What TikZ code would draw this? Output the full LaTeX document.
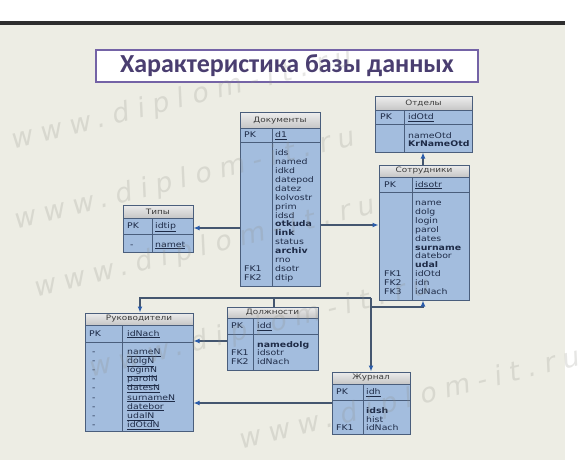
\documentclass[tikz,border=0pt]{standalone}
\usepackage{fontspec}
\setmainfont{DejaVu Sans}
\newfontfamily\tblfont[FakeStretch=1.2]{DejaVu Sans}
\newfontfamily\titlefont{Carlito}
\newfontfamily\wmfont[LetterSpace=30,FakeSlant=0.2]{DejaVu Sans}
\usetikzlibrary{fit,arrows.meta}
\definecolor{bg}{HTML}{EDEDE4}
\definecolor{topbar}{HTML}{2E2E2E}
\definecolor{bodyblue}{HTML}{A3BDDE}
\definecolor{tborder}{HTML}{4A5E7C}
\definecolor{hdrtop}{HTML}{ECECEC}
\definecolor{hdrbot}{HTML}{C6C6C6}
\definecolor{ink}{HTML}{1E2B47}
\definecolor{hdrink}{HTML}{3C3C3C}
\definecolor{connc}{HTML}{44566F}
\definecolor{arrowblue}{HTML}{2A5CAA}
\definecolor{titleink}{HTML}{4A3E70}
\definecolor{titleframe}{HTML}{7463A6}
\definecolor{wm}{HTML}{8E8E86}
\tikzset{
  tbox/.style={draw=tborder,line width=1pt,inner sep=0pt},
  tline/.style={draw=tborder,line width=0.8pt},
  thead/.style={font=\tblfont\fontsize{7.4}{8}\selectfont,text=hdrink,inner sep=0pt},
  tkey/.style={anchor=base west,font=\tblfont\fontsize{7.8}{8}\selectfont,text=ink,inner sep=0pt},
  tattr/.style={anchor=base west,font=\tblfont\fontsize{7.8}{8}\selectfont,text=ink,inner sep=0pt},
  conn/.style={draw=connc,line width=1.3pt},
  arr/.style={-{Latex[length=6pt,width=5pt,color=arrowblue]}},
  titlebox/.style={draw=titleframe,line width=1.5pt,fill=white,minimum width=382pt,minimum height=32pt,inner sep=0pt,
    font=\titlefont\bfseries\fontsize{26}{30}\selectfont,text=titleink},
  wmark/.style={font=\wmfont\fontsize{27}{30}\selectfont,text=wm,opacity=0.22,anchor=base west,inner sep=0pt,rotate=14}
}
% #1 name #2 x1 #3 y1 #4 x2 #5 y2 #6 yh #7 yp #8 xd #9 title
\newcommand\ertable[9]{%
  \fill[bodyblue] (#2,#3) rectangle (#4,#5);
  \shade[top color=hdrtop,bottom color=hdrbot] (#2,#3) rectangle (#4,#6);
  \draw[tline] (#2,#6) -- (#4,#6) (#2,#7) -- (#4,#7) (#8,#6) -- (#8,#5);
  \node[tbox,fit={(#2,#3)(#4,#5)}] (#1) {};
  \node[thead] (#1-title) at ({(#2+#4)/2},{(#3+#6)/2}) {#9};
}
% #1 name #2 xkey #3 xattr #4 first baseline #5 step #6 list
\newcommand\errows[6]{%
  \foreach \k/\a [count=\i] in {#6} {
    \node[tkey] (#1-k\i) at (#2,{#4+(\i-1)*#5}) {\k};
    \node[tattr] (#1-a\i) at (#3,{#4+(\i-1)*#5}) {\a};
  }%
}
\begin{document}
\begin{tikzpicture}[x=1pt,y=-1pt]
\useasboundingbox (0,0) rectangle (587,460);
\fill[white] (0,0) rectangle (587,460);
\fill[bg] (0,25) rectangle (565,460);
\fill[topbar] (0,21) rectangle (565,25);

\node[titlebox] (title) at (287,66) {Характеристика базы данных};

% Отделы
\ertable{otd}{375}{97}{472}{152}{110}{124}{404}{Отделы}
\errows{otdpk}{380}{408}{119.5}{8}{PK/\underline{idOtd}}
\errows{otdat}{380}{408}{138.5}{8}{{}/nameOtd,{}/\textbf{KrNameOtd}}

% Документы
\ertable{doc}{240}{113}{320}{286}{128}{142}{272}{Документы}
\errows{docpk}{244}{275}{137.5}{8.9}{PK/\underline{d1}}
\errows{docat}{244}{275}{155.5}{8.93}{{}/ids,{}/named,{}/idkd,{}/datepod,{}/datez,{}/kolvostr,{}/prim,{}/idsd,{}/\textbf{otkuda},{}/\textbf{link},{}/status,{}/\textbf{archiv},{}/rno,FK1/dsotr,FK2/dtip}

% Сотрудники
\ertable{sotr}{379}{165}{469}{300}{177}{192}{412}{Сотрудники}
\errows{sotrpk}{384}{415}{187}{8.9}{PK/\underline{idsotr}}
\errows{sotrat}{384}{415}{205.5}{8.9}{{}/name,{}/dolg,{}/login,{}/parol,{}/dates,{}/\textbf{surname},{}/datebor,{}/\textbf{udal},FK1/idOtd,FK2/idn,FK3/idNach}

% Типы
\ertable{tip}{123}{205}{193}{252}{218}{234}{152}{Типы}
\errows{tippk}{127}{155}{228.5}{8}{PK/\underline{idtip}}
\errows{tipat}{130}{155}{247}{8}{-/\underline{namet}}

% Руководители
\ertable{ruk}{85}{313}{193}{431}{325}{342}{122}{Руководители}
\errows{rukpk}{89}{127}{336}{9}{PK/\underline{idNach}}
\errows{rukat}{92}{127}{354.5}{9.1}{-/\underline{nameN},-/\underline{dolgN},-/\underline{loginN},-/\underline{parolN},-/\underline{datesN},-/\underline{surnameN},-/\underline{datebor},-/\underline{udalN},-/\underline{idOtdN}}

% Должности
\ertable{dol}{227}{307}{318}{370}{318}{334}{253}{Должности}
\errows{dolpk}{231}{257}{328.5}{8.8}{PK/\underline{idd}}
\errows{dolat}{231}{257}{347}{8.8}{{}/\textbf{namedolg},FK1/idsotr,FK2/idNach}

% Журнал
\ertable{zhu}{332}{372}{410}{434}{384}{400}{363}{Журнал}
\errows{zhupk}{336}{366}{394.5}{8.7}{PK/\underline{idh}}
\errows{zhuat}{336}{366}{413.5}{8.7}{{}/\textbf{idsh},{}/hist,FK1/idNach}

% connectors
\draw[conn,arr] (doc.west |- 0,228) -- (tip.east |- 0,228);
\draw[conn,arr] (doc.east |- 0,225) -- (sotr.west |- 0,225);
\draw[conn,arr] (sotr.north -| 423,0) -- (otd.south -| 423,0);
\draw[conn,arr] (dol.west |- 0,341) -- (ruk.east |- 0,341);
\draw[conn,arr] (zhu.west |- 0,403) -- (ruk.east |- 0,403);
\coordinate (jl) at (140,298);
\coordinate (jr) at (371,298);
\coordinate (jd) at (274,298);
\coordinate (js) at (371,307);
\coordinate (sc) at (423,307);
\draw[conn,arr] (jr) -- (jl) -- (ruk.north -| jl);
\draw[conn,arr] (jr) -- (zhu.north -| jr);
\draw[conn] (jd) -- (dol.north -| jd);
\draw[conn,arr] (js) -- (sc) -- (sotr.south -| sc);

% watermark
\node[wmark] (wm1) at (12,150) {www.diplom-it.ru};
\node[wmark] (wm2) at (15,230) {www.diplom-it.ru};
\node[wmark] (wm3) at (35,298) {www.diplom-it.ru};
\node[wmark] (wm4) at (90,378) {www.diplom-it.ru};
\node[wmark] (wm5) at (240,450) {www.diplom-it.ru};
\end{tikzpicture}
\end{document}
